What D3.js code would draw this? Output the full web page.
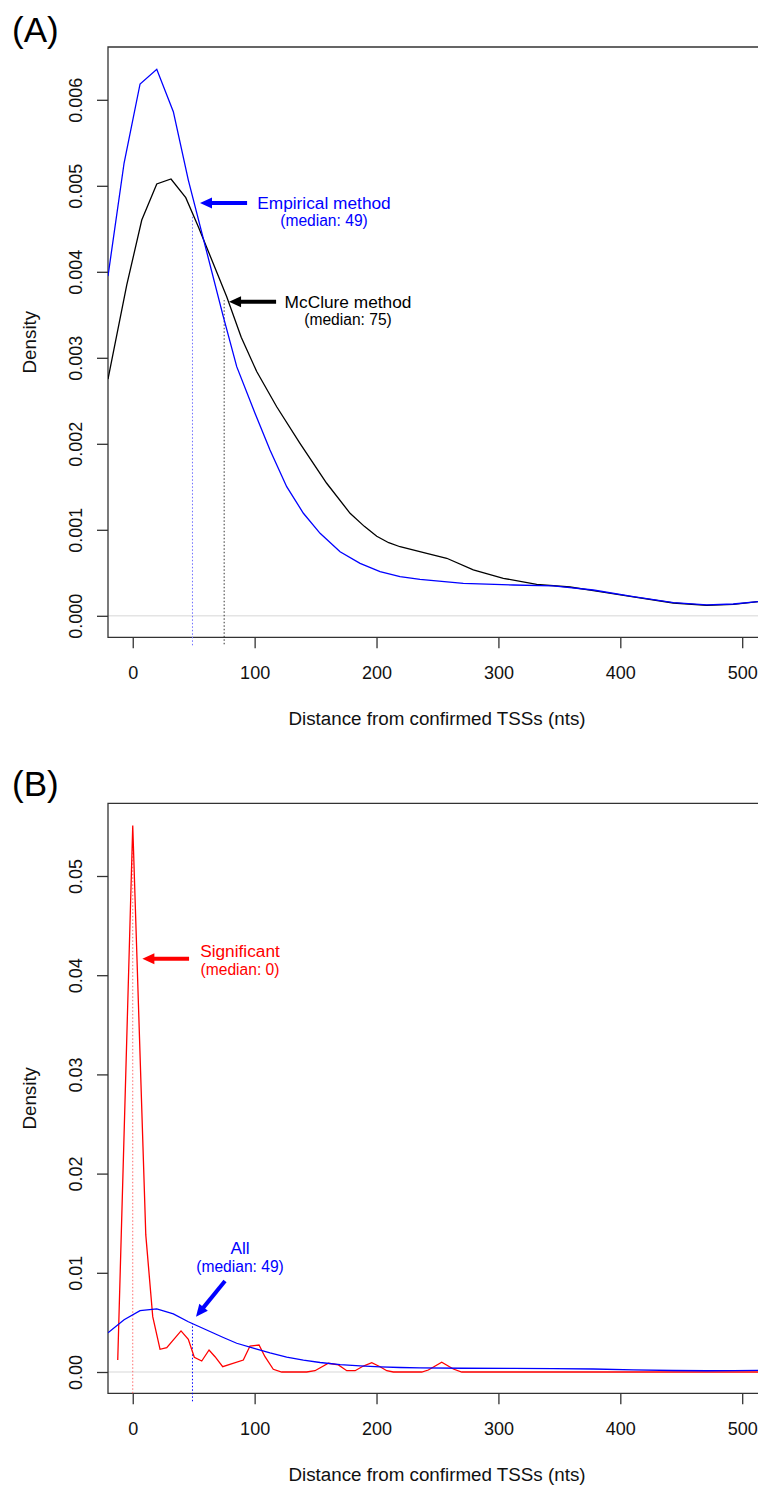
<!DOCTYPE html>
<html lang="en">
<head>
<meta charset="utf-8">
<title>TSS distance densities</title>
<script src="https://cdn.jsdelivr.net/npm/d3@7"></script>
<style>
  body { margin: 0; background: #fff; }
  svg { display: block; font-family: "Liberation Sans", Arial, Helvetica, sans-serif; }
</style>
</head>
<body>
<script>
// density curves: [distance, density]
var empirical = [
  [-20.3, 0.00395], [-7.1, 0.005265], [6.0, 0.006184], [19.7, 0.006355], [33.3, 0.005862],
  [45.6, 0.005067], [74.3, 0.003478], [85.3, 0.002897], [100.3, 0.002355], [112.6, 0.001928],
  [126.3, 0.001501], [140, 0.001192], [153.7, 0.000959], [170.1, 0.000745], [186.5, 0.00061],
  [202.9, 0.000513], [219.3, 0.000455], [235.7, 0.000424], [271.2, 0.000378], [312.2, 0.000358],
  [345, 0.000347], [377.9, 0.0003], [410.7, 0.000222], [443.5, 0.000152], [470.9, 0.000126],
  [492.7, 0.000137], [513, 0.000164], [520, 0.000172]
];
var mcclure = [
  [-20.3, 0.002753], [-4.9, 0.003847], [7.4, 0.004602], [19.7, 0.005021], [31.4, 0.005079],
  [43.5, 0.004862], [53.8, 0.004524], [77.1, 0.00371], [89, 0.00324], [101.7, 0.00284],
  [118.1, 0.002431], [137.2, 0.002006], [159.1, 0.001541], [178.3, 0.001192], [190, 0.00104],
  [200.2, 0.000925], [210, 0.00085], [219.3, 0.000803], [241.2, 0.000727], [257.6, 0.000669],
  [279.4, 0.000533], [304, 0.000436], [331.4, 0.000366], [358.7, 0.000335], [377.9, 0.000292],
  [410.7, 0.000219], [443.5, 0.000149], [470.9, 0.000122], [492.7, 0.000134], [513, 0.000164],
  [520, 0.000172]
];
var significant = [
  [-12.3, 0.00121], [0, 0.0551], [10.7, 0.01382], [16.4, 0.00558], [22.4, 0.00229],
  [27.9, 0.00245], [39.6, 0.00414], [45.6, 0.0033], [50.5, 0.00148], [56.6, 0.00111],
  [62.6, 0.00222], [67.5, 0.00154], [73.8, 0.00053], [90.7, 0.00121], [96.2, 0.00262],
  [103.6, 0.00272], [108.5, 0.00154], [115.3, 0.00027], [122.2, 0], [142.7, 0],
  [149.5, 0.00013], [160.5, 0.00088], [168.7, 0.00071], [175.6, 0.00013], [182.4, 0.00013],
  [189.2, 0.0006], [196.1, 0.00094], [202.9, 0.00053], [208.4, 0.00013], [213.8, 0],
  [237.1, 0], [242.5, 0.0002], [253.5, 0.00098], [263, 0.0003], [269.9, 0], [520, 0]
];
// "All" in panel B is the same density as the empirical one
var allTss = empirical;

var xTicks = [0, 100, 200, 300, 400, 500];
var yTicksA = [0, 0.001, 0.002, 0.003, 0.004, 0.005, 0.006];
var yTicksB = [0, 0.01, 0.02, 0.03, 0.04, 0.05];

var medians = { empirical: 49, mcclure: 75, significant: 0, all: 49 };

var W = 758, H = 1486;
var font = '"Liberation Sans", Arial, Helvetica, sans-serif';

var svg = d3.select("body").append("svg")
  .attr("width", W).attr("height", H);

var x = d3.scaleLinear().domain([-20.3, 520]).range([108, 132.7 + 520 * 1.219]);

function panel(opts) {
  var y = d3.scaleLinear().domain(opts.yDomain).range(opts.yRange);
  var g = svg.append("g");
  var top = opts.top, bottom = opts.bottom, left = 108, right = x.range()[1];

  var clipId = "clip" + opts.id;
  svg.append("clipPath").attr("id", clipId)
    .append("rect").attr("x", left).attr("y", top)
    .attr("width", right - left).attr("height", bottom - top);

  // panel letter
  g.append("text").attr("x", 12).attr("y", opts.letterY)
    .attr("font-size", 35).attr("fill", "#000").text(opts.letter);

  // zero line
  g.append("line").attr("x1", left).attr("x2", right)
    .attr("y1", y(0)).attr("y2", y(0))
    .attr("stroke", "#e4e4e4").attr("stroke-width", 1.6);

  // x axis
  var xa = g.append("g").attr("transform", "translate(0," + bottom + ")")
    .call(d3.axisBottom(x).tickValues(xTicks).tickSize(11).tickFormat(d3.format("d")));
  xa.select(".domain").remove();
  xa.selectAll("line").attr("stroke", "#333").attr("stroke-width", 1.3);
  xa.selectAll("text").attr("y", 42).attr("dy", 0)
    .attr("font-size", 18).attr("font-family", font).attr("fill", "#111");

  // y axis
  var ya = g.append("g").attr("transform", "translate(" + left + ",0)")
    .call(d3.axisLeft(y).tickValues(opts.yTicks).tickSize(11).tickFormat(d3.format(opts.fmt)));
  ya.select(".domain").remove();
  ya.selectAll("line").attr("stroke", "#333").attr("stroke-width", 1.3);
  ya.selectAll("text").attr("x", 0).attr("y", -26).attr("dy", 0)
    .attr("transform", "rotate(-90)").attr("text-anchor", "middle")
    .attr("font-size", 18).attr("font-family", font).attr("fill", "#111");

  // box
  g.append("path")
    .attr("d", "M" + (right + 5) + "," + top + "H" + left + "V" + bottom + "H" + (right + 5))
    .attr("fill", "none").attr("stroke", "#333").attr("stroke-width", 1.3);

  // axis titles
  g.append("text").attr("x", 437).attr("y", bottom + 87.4)
    .attr("text-anchor", "middle").attr("font-size", 18.8).attr("fill", "#111")
    .text("Distance from confirmed TSSs (nts)");
  g.append("text")
    .attr("transform", "translate(35.5," + ((top + bottom) / 2) + ") rotate(-90)")
    .attr("text-anchor", "middle").attr("font-size", 18.8).attr("fill", "#111")
    .text("Density");

  // median lines
  opts.medianLines.forEach(function (m) {
    g.append("line")
      .attr("x1", x(m.value)).attr("x2", x(m.value))
      .attr("y1", bottom + m.below).attr("y2", y(m.upTo))
      .attr("stroke", m.color).attr("stroke-width", 1)
      .attr("stroke-dasharray", "1.5,2");
  });

  // curves
  var line = d3.line().x(function (d) { return x(d[0]); }).y(function (d) { return y(d[1]); });
  var cg = g.append("g").attr("clip-path", "url(#" + clipId + ")");
  opts.series.forEach(function (s) {
    cg.append("path").datum(s.data)
      .attr("d", line).attr("fill", "none")
      .attr("stroke", s.color).attr("stroke-width", 1.3)
      .attr("stroke-linejoin", "miter");
  });

  // annotations
  opts.notes.forEach(function (n) {
    arrow(g, x(n.from[0]), y(n.from[1]), x(n.to[0]), y(n.to[1]), n.color);
    g.append("text").attr("x", x(n.tx)).attr("y", y(n.ty1))
      .attr("text-anchor", "middle").attr("font-size", 17.3).attr("fill", n.color).text(n.label);
    g.append("text").attr("x", x(n.tx)).attr("y", y(n.ty2))
      .attr("text-anchor", "middle").attr("font-size", 15.6).attr("fill", n.color).text(n.sub);
  });
}

function arrow(g, x1, y1, x2, y2, color) {
  var dx = x2 - x1, dy = y2 - y1, len = Math.sqrt(dx * dx + dy * dy);
  var ux = dx / len, uy = dy / len, px = -uy, py = ux;
  var hl = 12, hw = 5.5;
  var bx = x2 - ux * hl, by = y2 - uy * hl;
  g.append("line").attr("x1", x1).attr("y1", y1)
    .attr("x2", bx + ux * 2).attr("y2", by + uy * 2)
    .attr("stroke", color).attr("stroke-width", 4);
  g.append("path")
    .attr("d", "M" + x2 + "," + y2 + "L" + (bx + px * hw) + "," + (by + py * hw) +
      "L" + (bx - px * hw) + "," + (by - py * hw) + "Z")
    .attr("fill", color);
}

panel({
  id: "A", letter: "(A)", letterY: 42,
  top: 47, bottom: 637.3,
  yDomain: [0, 0.006], yRange: [615.8, 99.8],
  yTicks: yTicksA, fmt: ".3f",
  series: [
    { data: mcclure, color: "#000" },
    { data: empirical, color: "#0000ff" }
  ],
  medianLines: [
    { value: medians.empirical, upTo: 0.00466, below: 8, color: "#6f6fff" },
    { value: medians.mcclure, upTo: 0.00367, below: 7, color: "#333" }
  ],
  notes: [
    { label: "Empirical method", sub: "(median: 49)", color: "#0000ff",
      tx: 156.9, ty1: 0.00473, ty2: 0.004527, from: [93.8, 0.0048], to: [55.2, 0.0048] },
    { label: "McClure method", sub: "(median: 75)", color: "#000",
      tx: 176.6, ty1: 0.003579, ty2: 0.003376, from: [117.6, 0.003652], to: [79, 0.003652] }
  ]
});

panel({
  id: "B", letter: "(B)", letterY: 796,
  top: 803.3, bottom: 1393.3,
  yDomain: [0, 0.05], yRange: [1372, 876],
  yTicks: yTicksB, fmt: ".2f",
  series: [
    { data: significant, color: "#ff0000" },
    { data: allTss, color: "#0000ff" }
  ],
  medianLines: [
    { value: medians.significant, upTo: 0.053, below: 0, color: "#ff6a6a" },
    { value: medians.all, upTo: 0.00494, below: 8, color: "#0000ff" }
  ],
  notes: [
    { label: "Significant", sub: "(median: 0)", color: "#ff0000",
      tx: 88, ty1: 0.04186, ty2: 0.03997, from: [46.2, 0.04166], to: [7.9, 0.04166] },
    { label: "All", sub: "(median: 49)", color: "#0000ff",
      tx: 88, ty1: 0.0119, ty2: 0.01012, from: [75.7, 0.00918], to: [51.9, 0.00558] }
  ]
});
</script>
</body>
</html>
